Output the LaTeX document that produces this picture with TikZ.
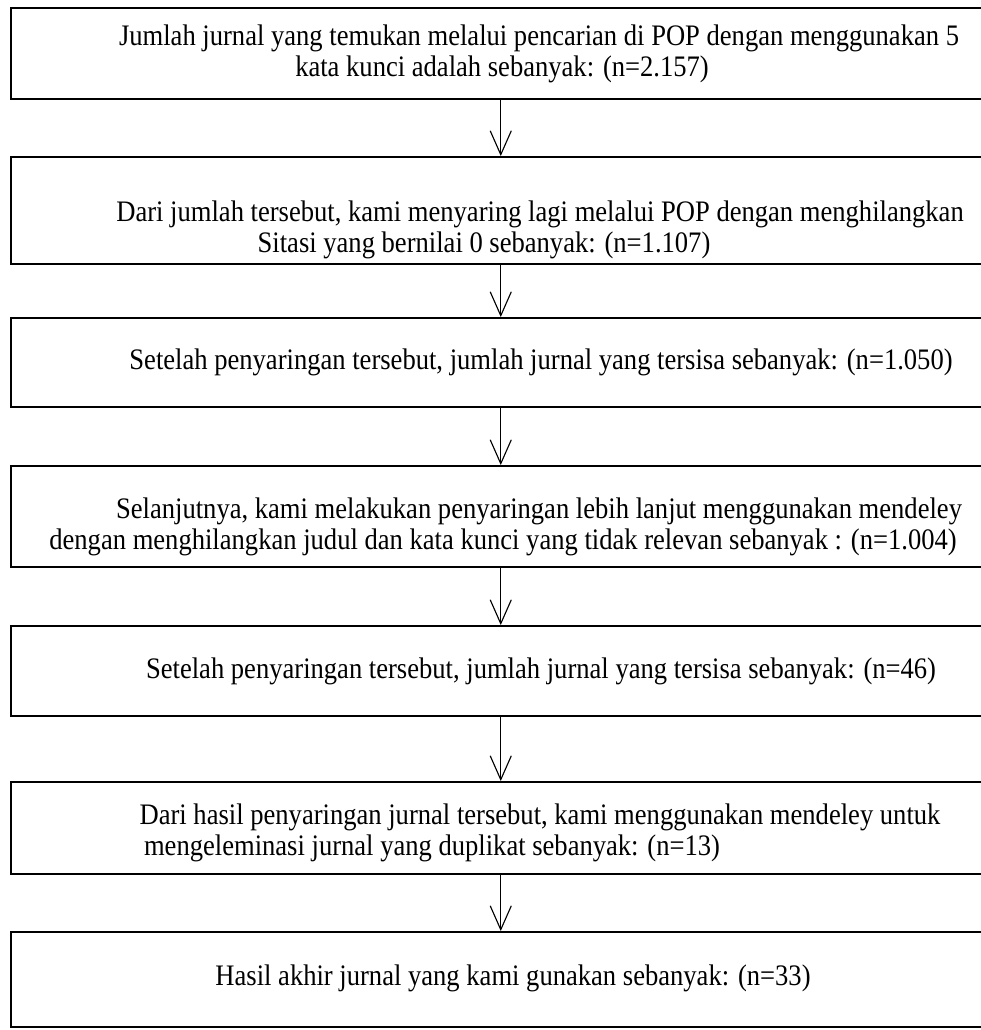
\documentclass[tikz,border=0pt]{standalone}
\usepackage{graphicx}
\usepackage{fontspec}
\setmainfont{Liberation Serif}
\usetikzlibrary{arrows.meta}
\newcommand{\tallline}[1]{\scalebox{1}[1.12]{#1}}
\begin{document}
\begin{tikzpicture}[x=0.025cm,y=-0.025cm,
  box/.style={draw, line width=1.3pt, minimum width=24.5cm, inner sep=0pt},
  txt/.style={inner sep=0pt, anchor=mid, font=\fontsize{18.9}{22}\selectfont},
  flow/.style={-{Straight Barb[length=17pt,width=15pt]}, line width=0.8pt}]
\useasboundingbox (0,0) rectangle (980,1030);
\node[box, minimum height=2.275cm] (b1) at (500.75,53.5) {};
\node[box, minimum height=2.675cm] (b2) at (500.75,210.5) {};
\node[box, minimum height=2.225cm] (b3) at (500.75,362.5) {};
\node[box, minimum height=2.525cm] (b4) at (500.75,516.5) {};
\node[box, minimum height=2.25cm] (b5) at (500.75,671) {};
\node[box, minimum height=2.3cm] (b6) at (500.75,828) {};
\node[box, minimum height=2.375cm] (b7) at (500.75,979.5) {};
\node[txt] (t1a) at (539,42) {\tallline{Jumlah jurnal yang temukan melalui pencarian di POP dengan menggunakan 5}};
\node[txt] (t1b) at (502,73) {\tallline{kata kunci adalah sebanyak: (n=2.157)}};
\node[txt] (t2a) at (540,218) {\tallline{Dari jumlah tersebut, kami menyaring lagi melalui POP dengan menghilangkan}};
\node[txt] (t2b) at (484,249) {\tallline{Sitasi yang bernilai 0 sebanyak: (n=1.107)}};
\node[txt] (t3) at (541,366) {\tallline{Setelah penyaringan tersebut, jumlah jurnal yang tersisa sebanyak: (n=1.050)}};
\node[txt] (t4a) at (539,515) {\tallline{Selanjutnya, kami melakukan penyaringan lebih lanjut menggunakan mendeley}};
\node[txt] (t4b) at (503,546) {\tallline{dengan menghilangkan judul dan kata kunci yang tidak relevan sebanyak : (n=1.004)}};
\node[txt] (t5) at (541,675) {\tallline{Setelah penyaringan tersebut, jumlah jurnal yang tersisa sebanyak: (n=46)}};
\node[txt] (t6a) at (540,821) {\tallline{Dari hasil penyaringan jurnal tersebut, kami menggunakan mendeley untuk}};
\node[txt] (t6b) at (432,852) {\tallline{mengeleminasi jurnal yang duplikat sebanyak: (n=13)}};
\node[txt] (t7) at (513,982) {\tallline{Hasil akhir jurnal yang kami gunakan sebanyak: (n=33)}};
\draw[flow] (b1) -- (b2);
\draw[flow] (b2) -- (b3);
\draw[flow] (b3) -- (b4);
\draw[flow] (b4) -- (b5);
\draw[flow] (b5) -- (b6);
\draw[flow] (b6) -- (b7);
\end{tikzpicture}
\end{document}
